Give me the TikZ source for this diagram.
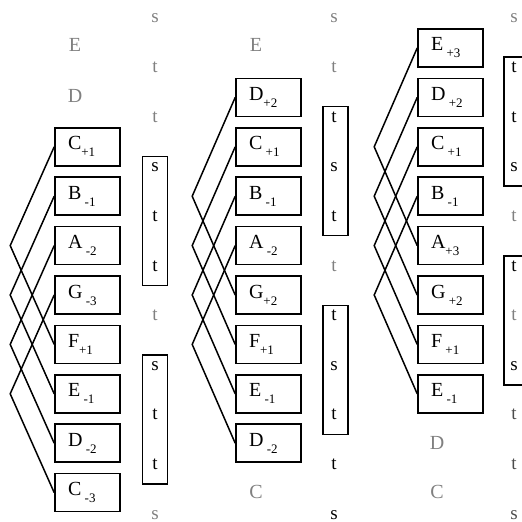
\documentclass[tikz,border=0pt]{standalone}
\usepackage{fontspec}
\setmainfont{Liberation Serif}
\usetikzlibrary{calc}

\colorlet{faint}{gray}
\colorlet{mid}{black!70}
\newcommand{\off}[1]{\raisebox{-7pt}{\fontsize{13}{14}\selectfont #1}}

\tikzset{
  letterbox/.style={draw,line width=1.6pt,minimum height=38pt,inner ysep=0pt,inner xsep=13pt,
    text width=39pt,align=left,font=\fontsize{20}{22}\selectfont},
  colbox/.style={draw,line width=1.6pt,minimum width=25pt,minimum height=129pt,inner sep=0pt},
  ghost/.style={text=faint,font=\fontsize{20}{22}\selectfont},
  slot/.style={anchor=base,inner sep=0pt,font=\fontsize{19}{22}\selectfont},
  wire/.style={line width=1.5pt,line join=miter}
}

\begin{document}
\begin{tikzpicture}[x=1pt,y=-1pt]
\useasboundingbox (0,0) rectangle (522,522);
% first window
\node[ghost] (a0) at (75,45) {E};
\node[ghost] (a9) at (75,96) {D};
\foreach \t [count=\i] in {C\off{+1},B\thinspace\off{-1},A\thinspace\off{-2},G\thinspace\off{-3},
    F\off{+1},E\thinspace\off{-1},D\thinspace\off{-2},C\thinspace\off{-3}}
  \node[letterbox] (a\i) at (87.5,{48+49.4*(\i+1)}) {\t};
\foreach \a/\b in {1/5,2/6,3/7,4/8}
  \draw[wire] (a\a.west) -- ([xshift=-44pt]$(a\a.west)!.5!(a\b.west)$) -- (a\b.west);
\node[colbox] (abox1) at (155,{22+49.7*4}) {};
\node[colbox] (abox2) at (155,{22+49.7*8}) {};
\foreach \l/\c [count=\j from 0] in {s/faint,t/faint,t/faint,s/black,t/black,t/black,
    t/faint,s/black,t/black,t/black,s/faint}
  \node[slot,text=\c] (ar\j) at (155,{23+49.6*\j}) {\l};
% second window
\node[ghost] (b0) at (256,45) {E};
\node[ghost] (b9) at (256,492) {C};
\foreach \t [count=\i] in {D\off{+2},C\thinspace\off{+1},B\thinspace\off{-1},A\thinspace\off{-2},
    G\off{+2},F\off{+1},E\thinspace\off{-1},D\thinspace\off{-2}}
  \node[letterbox] (b\i) at (268.5,{48+49.4*\i}) {\t};
\foreach \a/\b in {1/5,2/6,3/7,4/8}
  \draw[wire] (b\a.west) -- ([xshift=-43pt]$(b\a.west)!.5!(b\b.west)$) -- (b\b.west);
\node[colbox] (bbox1) at (335.5,{22+49.7*3}) {};
\node[colbox] (bbox2) at (335.5,{22+49.7*7}) {};
\foreach \l/\c [count=\j from 0] in {s/faint,t/faint,t/black,s/black,t/black,t/faint,
    t/black,s/black,t/black,t/black,s/black}
  \node[slot,text=\c] (br\j) at (334,{23+49.6*\j}) {\l};
% third window
\node[ghost] (c9) at (437,443) {D};
\node[ghost] (c10) at (437,492) {C};
\foreach \t [count=\i] in {E\thinspace\off{+3},D\thinspace\off{+2},C\thinspace\off{+1},B\thinspace\off{-1},
    A\off{+3},G\thinspace\off{+2},F\thinspace\off{+1},E\thinspace\off{-1}}
  \node[letterbox,xshift=2pt] (c\i) at (448.5,{48+49.4*(\i-1)}) {\t};
\foreach \a/\b in {1/5,2/6,3/7,4/8}
  \draw[wire] (c\a.west) -- ([xshift=-43pt]$(c\a.west)!.5!(c\b.west)$) -- (c\b.west);
\node[colbox] (cbox1) at (516.5,{22+49.7*2}) {};
\node[colbox] (cbox2) at (516.5,{22+49.7*6}) {};
\foreach \l/\c [count=\j from 0] in {s/faint,t/black,t/black,s/black,t/faint,t/black,
    t/faint,s/black,t/mid,t/mid,s/mid}
  \node[slot,text=\c] (cr\j) at (514,{23+49.6*\j}) {\l};
\end{tikzpicture}
\end{document}
